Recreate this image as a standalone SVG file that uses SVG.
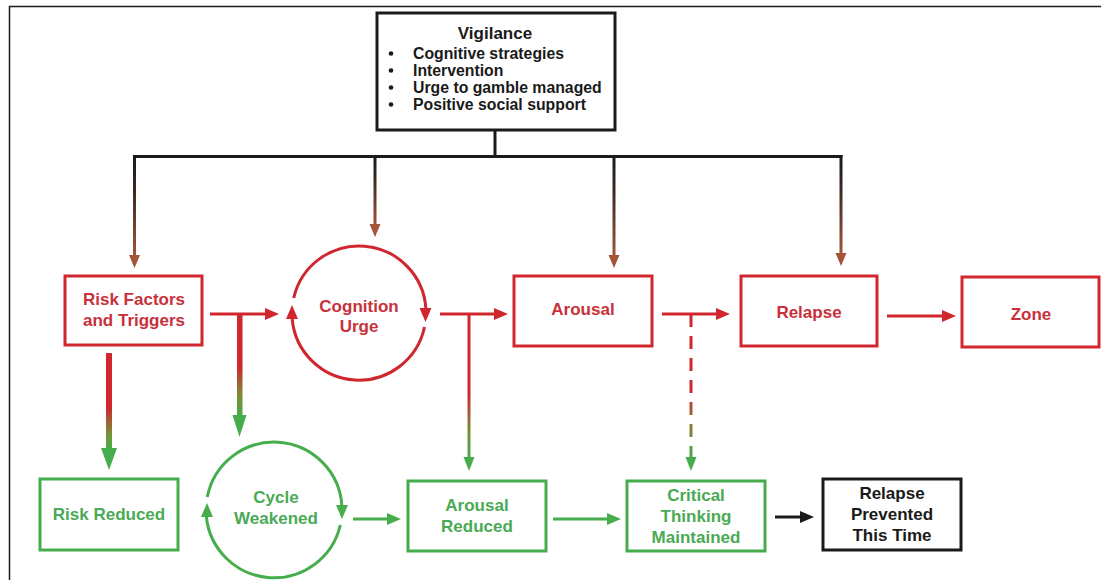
<svg xmlns="http://www.w3.org/2000/svg" width="1101" height="580" viewBox="0 0 1101 580">
  <defs>
    <!-- vertical fades: black to brown for the vigilance drops -->
    <linearGradient id="gDrop" x1="0" y1="0" x2="0" y2="1">
      <stop offset="0" stop-color="#1a1a1a"/>
      <stop offset="0.35" stop-color="#3a2a24"/>
      <stop offset="1" stop-color="#a5543a"/>
    </linearGradient>
    <!-- red to green fades for the downward branches -->
    <linearGradient id="gRG1" x1="0" y1="0" x2="0" y2="1">
      <stop offset="0" stop-color="#d0262e"/>
      <stop offset="0.55" stop-color="#d0262e"/>
      <stop offset="0.85" stop-color="#6f9a3a"/>
      <stop offset="1" stop-color="#45ad4b"/>
    </linearGradient>
    <linearGradient id="gRG2" x1="0" y1="0" x2="0" y2="1">
      <stop offset="0" stop-color="#d0262e"/>
      <stop offset="0.5" stop-color="#d0262e"/>
      <stop offset="0.8" stop-color="#7a8f35"/>
      <stop offset="1" stop-color="#45ad4b"/>
    </linearGradient>
    <linearGradient id="gRG3" x1="0" y1="0" x2="0" y2="1">
      <stop offset="0" stop-color="#d0262e"/>
      <stop offset="0.55" stop-color="#d0262e"/>
      <stop offset="0.8" stop-color="#7d8c36"/>
      <stop offset="1" stop-color="#45ad4b"/>
    </linearGradient>
    <linearGradient id="gRG4" x1="0" y1="0" x2="0" y2="1">
      <stop offset="0" stop-color="#d0262e"/>
      <stop offset="0.5" stop-color="#d0262e"/>
      <stop offset="0.8" stop-color="#8a7f36"/>
      <stop offset="1" stop-color="#45ad4b"/>
    </linearGradient>
    <mask id="dash">
      <path d="M691 314 V459" stroke="#ffffff" stroke-width="4" stroke-dasharray="13 9"/>
    </mask>
  </defs>
  <style>
    text { font-family: "Liberation Sans", Arial, sans-serif; font-weight: bold; font-size: 17px; }
    .box { fill: #ffffff; stroke-width: 3; }
    .red { stroke: #d0262e; }
    .grn { stroke: #45ad4b; }
    .blk { stroke: #1a1a1a; }
    .tr { fill: #c8303a; text-anchor: middle; }
    .tg { fill: #4aaa55; text-anchor: middle; }
    .tk { fill: #1a1a1a; text-anchor: middle; }
    .vig { fill: #1a1a1a; font-size: 15.8px; }
    .ring { fill: none; stroke-width: 3; }
    .ln { fill: none; stroke-width: 3; }
    .hr { fill: #d0262e; }
    .hg { fill: #45ad4b; }
    .hb { fill: #a5543a; }
    .hk { fill: #1a1a1a; }
  </style>

  <rect width="1101" height="580" fill="#ffffff"/>
  <!-- page frame -->
  <path d="M9.5 580 V6.5 H1101" fill="none" stroke="#1a1a1a" stroke-width="1.5"/>

  <g id="vigilance">
    <rect class="box blk" x="377" y="13" width="238" height="117"/>
    <text class="tk" x="495" y="39">Vigilance</text>
    <circle cx="391" cy="53.5" r="2.3" fill="#1a1a1a"/>
    <circle cx="391" cy="70.5" r="2.3" fill="#1a1a1a"/>
    <circle cx="391" cy="87.5" r="2.3" fill="#1a1a1a"/>
    <circle cx="391" cy="104.5" r="2.3" fill="#1a1a1a"/>
    <text class="vig" x="413" y="58.5">Cognitive strategies</text>
    <text class="vig" x="413" y="75.5">Intervention</text>
    <text class="vig" x="413" y="92.5">Urge to gamble managed</text>
    <text class="vig" x="413" y="109.5">Positive social support</text>
  </g>

  <g id="risk-factors">
    <rect class="box red" x="65" y="276" width="137" height="69"/>
    <text class="tr" x="134" y="304.5">Risk Factors</text>
    <text class="tr" x="134" y="326">and Triggers</text>
  </g>

  <g id="cognition-urge">
    <path class="ring red" d="M293.7 298 A67 67 0 0 1 425.9 309"/>
    <polygon class="hr" points="425.5,322 419.5,308 431.5,308"/>
    <path class="ring red" d="M424.5 327 A67 67 0 0 1 292.2 319"/>
    <polygon class="hr" points="292,305 286,319 298,319"/>
    <text class="tr" x="359" y="311.5">Cognition</text>
    <text class="tr" x="359" y="332">Urge</text>
  </g>

  <g id="arousal">
    <rect class="box red" x="514" y="276" width="138" height="70"/>
    <text class="tr" x="583" y="315">Arousal</text>
  </g>

  <g id="relapse">
    <rect class="box red" x="741" y="276" width="136" height="70"/>
    <text class="tr" x="809" y="318">Relapse</text>
  </g>

  <g id="zone">
    <rect class="box red" x="962" y="277" width="137" height="70"/>
    <text class="tr" x="1031" y="320">Zone</text>
  </g>

  <g id="risk-reduced">
    <rect class="box grn" x="40" y="479" width="138" height="71"/>
    <text class="tg" x="109" y="520">Risk Reduced</text>
  </g>

  <g id="cycle-weakened">
    <path class="ring grn" d="M207.3 497 A68 68 0 0 1 341.9 506"/>
    <polygon class="hg" points="342,519 336,505 348,505"/>
    <path class="ring grn" d="M340.3 525 A68 68 0 0 1 206.3 516"/>
    <polygon class="hg" points="207,503 201,517 213,517"/>
    <text class="tg" x="276" y="503">Cycle</text>
    <text class="tg" x="276" y="523.5">Weakened</text>
  </g>

  <g id="arousal-reduced">
    <rect class="box grn" x="408" y="481" width="138" height="70"/>
    <text class="tg" x="477" y="511">Arousal</text>
    <text class="tg" x="477" y="532">Reduced</text>
  </g>

  <g id="critical-thinking">
    <rect class="box grn" x="627" y="481" width="138" height="70"/>
    <text class="tg" x="696" y="500.5">Critical</text>
    <text class="tg" x="696" y="521.5">Thinking</text>
    <text class="tg" x="696" y="542.5">Maintained</text>
  </g>

  <g id="relapse-prevented">
    <rect class="box blk" x="823" y="479" width="138" height="71"/>
    <text class="tk" x="892" y="498.5">Relapse</text>
    <text class="tk" x="892" y="520">Prevented</text>
    <text class="tk" x="892" y="541">This Time</text>
  </g>

  <g id="connectors">
    <!-- vigilance bus -->
    <path class="ln" d="M495 130 V156.5 M133 156.5 H842.5" stroke="#1a1a1a"/>
    <rect x="133" y="155" width="3" height="102" fill="url(#gDrop)"/>
    <polygon class="hb" points="134.5,268 129,255 140,255"/>
    <rect x="373.5" y="155" width="3" height="71" fill="url(#gDrop)"/>
    <polygon class="hb" points="375,237 369.5,224 380.5,224"/>
    <rect x="612.5" y="155" width="3" height="102" fill="url(#gDrop)"/>
    <polygon class="hb" points="614,268 608.5,255 619.5,255"/>
    <rect x="839.5" y="155" width="3" height="100" fill="url(#gDrop)"/>
    <polygon class="hb" points="841,266 835.5,253 846.5,253"/>

    <!-- red flow -->
    <path class="ln red" d="M210 314 H266"/>
    <polygon class="hr" points="279,314 265,308 265,320"/>
    <path class="ln red" d="M440 314 H495"/>
    <polygon class="hr" points="508,314 494,308 494,320"/>
    <path class="ln red" d="M662 314 H717"/>
    <polygon class="hr" points="730,314 716,308 716,320"/>
    <path class="ln red" d="M887 316 H942"/>
    <polygon class="hr" points="956,316 942,310 942,322"/>

    <!-- red to green branches -->
    <rect x="106" y="353" width="6" height="98" fill="url(#gRG1)"/>
    <polygon class="hg" points="109,470 101,448 117,448"/>
    <rect x="237" y="314" width="5.5" height="103" fill="url(#gRG2)"/>
    <polygon class="hg" points="239.5,437 232.5,415 246.5,415"/>
    <rect x="467.5" y="314" width="3" height="145" fill="url(#gRG3)"/>
    <polygon class="hg" points="469,471 463.5,457 474.5,457"/>
    <rect x="689.5" y="314" width="3" height="145" fill="url(#gRG4)" mask="url(#dash)"/>
    <polygon class="hg" points="691,471 685.5,457 696.5,457"/>

    <!-- green flow -->
    <path class="ln grn" d="M353 519 H388"/>
    <polygon class="hg" points="401,519 387,513 387,525"/>
    <path class="ln grn" d="M553 519 H608"/>
    <polygon class="hg" points="621,519 607,513 607,525"/>
    <path class="ln blk" d="M775 517 H801"/>
    <polygon class="hk" points="814,517 800,511 800,523"/>
  </g>
</svg>
